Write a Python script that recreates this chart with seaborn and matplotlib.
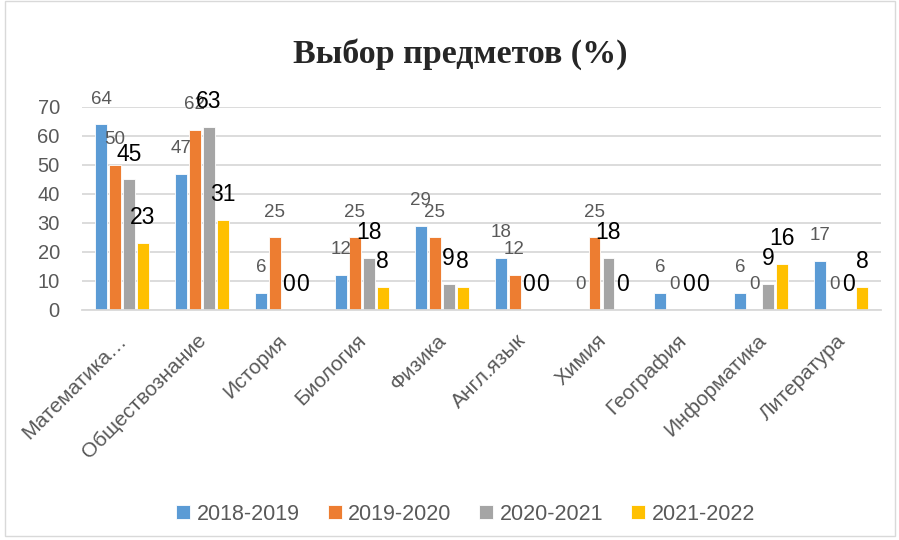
import pandas as pd
import matplotlib.pyplot as plt
import matplotlib.transforms as mtransforms
import seaborn as sns
from matplotlib.patches import Rectangle

subjects = ['Математика…', 'Обществознание', 'История', 'Биология', 'Физика',
            'Англ.язык', 'Химия', 'География', 'Информатика', 'Литература']
years = ['2018-2019', '2019-2020', '2020-2021', '2021-2022']
y2018 = [64, 47, 6, 12, 29, 18, 0, 6, 6, 17]
y2019 = [50, 62, 25, 25, 25, 12, 25, 0, 0, 0]
y2020 = [45, 63, 0, 18, 9, 0, 18, 0, 9, 0]
y2021 = [23, 31, 0, 8, 8, 0, 0, 0, 16, 8]

colors = ['#5B9BD5', '#ED7D31', '#A5A5A5', '#FFC000']

df = pd.DataFrame({'Предмет': subjects * 4,
                   'Год': [y for y in years for _ in subjects],
                   'Процент': y2018 + y2019 + y2020 + y2021})

sns.set_style('white')
plt.rcParams['font.family'] = ['Liberation Sans', 'DejaVu Sans']

fig = plt.figure(figsize=(8.99, 5.40), dpi=100)
ax = fig.add_axes([0.0912, 0.426, 0.889, 0.376])

sns.barplot(data=df, x='Предмет', y='Процент', hue='Год', palette=colors,
            saturation=1, width=0.7, gap=0.15, edgecolor='white', linewidth=0.6,
            ax=ax, legend=True)

# подписи данных
for i, cont in enumerate(ax.containers):
    if i < 2:
        ax.bar_label(cont, fmt='%d', color='#595959', fontsize=13.5, padding=12)
    else:
        ax.bar_label(cont, fmt='%d', color='black', fontsize=16.5, padding=10)

ax.set_ylim(0, 70)
ax.set_yticks(range(0, 71, 10))
ax.set_xlim(-0.5, 9.5)
ax.grid(axis='y', color='#D9D9D9', linewidth=1.3)
ax.set_axisbelow(True)
for s in ['top', 'right', 'left']:
    ax.spines[s].set_visible(False)
ax.spines['bottom'].set_color('#D9D9D9')
ax.spines['bottom'].set_linewidth(1.3)
ax.tick_params(axis='y', length=0, colors='#595959', labelsize=14.5, pad=16)
ax.tick_params(axis='x', length=0, colors='#595959', labelsize=15, pad=15)
offset = mtransforms.ScaledTranslation(-0.05, 0, fig.dpi_scale_trans)
for lbl in ax.get_xticklabels():
    lbl.set_rotation(45)
    lbl.set_ha('right')
    lbl.set_va('top')
    lbl.set_rotation_mode('anchor')
    lbl.set_transform(lbl.get_transform() + offset)
ax.set_xlabel('')
ax.set_ylabel('')

fig.suptitle('Выбор предметов (%)', x=0.512, y=0.93, fontsize=24.5,
             fontweight='bold', family='Liberation Serif')

ax.legend(loc='center', bbox_to_anchor=(0.518, 0.048), bbox_transform=fig.transFigure,
          ncol=4, frameon=False, fontsize=15.5, handlelength=0.65, handleheight=0.65,
          columnspacing=1.3, handletextpad=0.3, labelcolor='#595959')

fig.patches.append(Rectangle((0.006, 0.008), 0.99, 0.99, transform=fig.transFigure,
                             fill=False, edgecolor='#D9D9D9', linewidth=1))

fig.savefig('out.png', dpi=100)
